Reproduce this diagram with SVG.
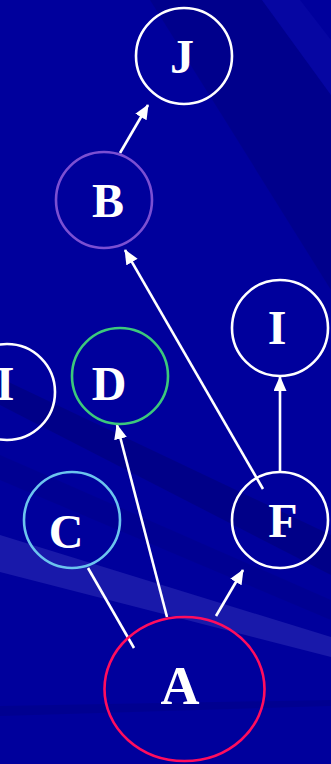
<svg xmlns="http://www.w3.org/2000/svg" width="331" height="764" viewBox="0 0 331 764">
<style>
.node{fill:none;stroke-width:2.6}
.lbl{font-family:"Liberation Serif","Times New Roman",serif;font-weight:bold;font-size:48px;fill:#ffffff;text-anchor:middle}
.edge{stroke:#ffffff;stroke-width:2.6;fill:none}
</style>
<defs>
<marker id="ah" markerUnits="userSpaceOnUse" markerWidth="16" markerHeight="14" refX="14" refY="6.5" orient="auto">
<path d="M0,0 L15,6.5 L0,13 z" fill="#ffffff"/>
</marker>
</defs>
<g id="background">
<rect width="331" height="764" fill="#00009c"/>
<polygon points="150,0 262,0 331,95 331,290" fill="#000080" opacity="0.55"/>
<polygon points="262,0 300,0 331,40 331,95" fill="#0a0aa6" opacity="0.6"/>
<polygon points="0,378 331,535 331,575 0,405" fill="#000078" opacity="0.55"/>
<polygon points="0,455 331,600 331,620 0,480" fill="#000080" opacity="0.35"/>
<polygon points="0,535 331,637 331,657 0,572" fill="#2a2ab4" opacity="0.6"/>
<polygon points="0,706 331,700 331,706 0,716" fill="#00007c" opacity="0.35"/>
</g>
<g id="edges">
<line class="edge" x1="120" y1="153" x2="148" y2="105" marker-end="url(#ah)"/>
<line class="edge" x1="263" y1="489" x2="125" y2="250" marker-end="url(#ah)"/>
<line class="edge" x1="280" y1="472" x2="280" y2="377" marker-end="url(#ah)"/>
<line class="edge" x1="167" y1="617" x2="117" y2="425" marker-end="url(#ah)"/>
<line class="edge" x1="88" y1="568" x2="134" y2="648"/>
<line class="edge" x1="216" y1="616" x2="243" y2="570" marker-end="url(#ah)"/>
</g>
<g id="node-J">
<circle class="node" cx="184" cy="56" r="48" stroke="#ffffff"/>
<text class="lbl" x="182" y="73">J</text>
</g>
<g id="node-B">
<circle class="node" cx="104" cy="200" r="48" stroke="#7b4fd2"/>
<text class="lbl" x="108" y="217">B</text>
</g>
<g id="node-I-right">
<circle class="node" cx="280" cy="328" r="48" stroke="#ffffff"/>
<text class="lbl" x="277" y="344">I</text>
</g>
<g id="node-I-left">
<circle class="node" cx="7" cy="392" r="48" stroke="#ffffff"/>
<text class="lbl" x="5" y="400">I</text>
</g>
<g id="node-D">
<circle class="node" cx="120" cy="376" r="48" stroke="#3cc87c"/>
<text class="lbl" x="109" y="400">D</text>
</g>
<g id="node-C">
<circle class="node" cx="72" cy="520" r="48" stroke="#6cc4ee"/>
<text class="lbl" x="66" y="548">C</text>
</g>
<g id="node-F">
<circle class="node" cx="280" cy="520" r="48" stroke="#ffffff"/>
<text class="lbl" x="283" y="537">F</text>
</g>
<g id="node-A">
<ellipse class="node" cx="184.5" cy="689" rx="80" ry="72" stroke="#ff0d5e"/>
<text class="lbl" x="180" y="704" style="font-size:54px">A</text>
</g>
</svg>
